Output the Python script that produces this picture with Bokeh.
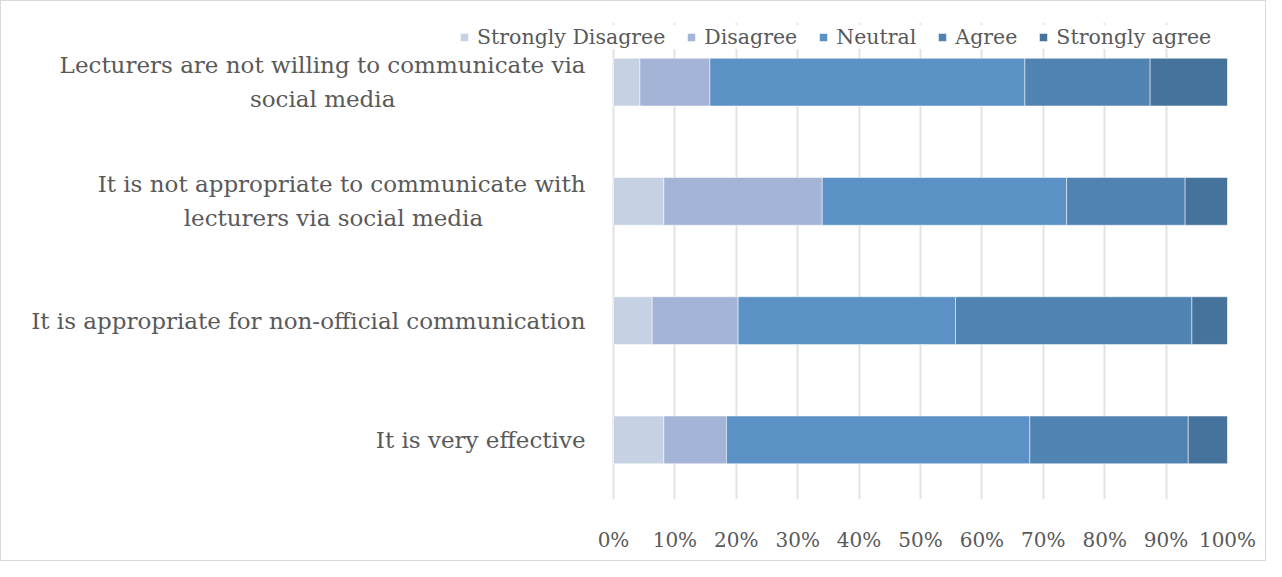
from bokeh.plotting import figure
from bokeh.models import FactorRange, FixedTicker, Legend, LegendItem, Range1d
from bokeh.embed import file_html
from bokeh.resources import INLINE

# two-line category labels (second line centred under the first, as in the reference)
NB = "\u00a0"
categories = [
    "Lecturers are not willing to communicate via\nsocial media" + NB * 26,
    "It is not appropriate to communicate with\nlecturers  via social media" + NB * 13,
    "It is appropriate for non-official communication",
    "It is very effective",
]
series = ["Strongly Disagree", "Disagree", "Neutral", "Agree", "Strongly agree"]
strongly_disagree = [4.3, 8.2, 6.3, 8.2]
disagree = [11.4, 25.8, 14.0, 10.2]
neutral = [51.3, 39.8, 35.4, 49.4]
agree = [20.4, 19.3, 38.5, 25.8]
strongly_agree = [12.6, 6.9, 5.8, 6.4]
x_ticks = [0, 10, 20, 30, 40, 50, 60, 70, 80, 90, 100]
tick_labels = ["0%", "10%", "20%", "30%", "40%", "50%", "60%", "70%", "80%", "90%", "100%"]

colors = ["#C6D2E3", "#A3B4D6", "#5C91C6", "#5082B2", "#46739C"]
FONT = "DejaVu Serif"
TXT = "#595959"

data = dict(cat=categories, **{
    "Strongly Disagree": strongly_disagree,
    "Disagree": disagree,
    "Neutral": neutral,
    "Agree": agree,
    "Strongly agree": strongly_agree,
})

# frame spans from the legend's left edge to the 100% line; 0% sits 154 px in
p = figure(
    width=1266, height=561,
    y_range=FactorRange(factors=list(reversed(categories))),
    x_range=Range1d(-25.08, 100),
    output_backend="svg", toolbar_location=None,
    min_border_left=458, min_border_right=40, min_border_top=21, min_border_bottom=63,
)
p.styles = {"border": "1px solid #D9D9D9"}

renderers = p.hbar_stack(series, y="cat", height=0.4, color=colors, source=data,
                         line_color="white", line_width=0.5)

legend = Legend(items=[LegendItem(label=s, renderers=[r]) for s, r in zip(series, renderers)],
                orientation="horizontal", location=(0, 450),
                label_text_font=FONT, label_text_font_size="20.5px", label_text_color=TXT,
                glyph_width=10, glyph_height=10, spacing=21, label_standoff=8,
                padding=0, margin=0, border_line_color=None,
                background_fill_color="white", background_fill_alpha=1.0)
p.add_layout(legend, "center")

p.xaxis.ticker = FixedTicker(ticks=x_ticks)
p.xaxis.major_label_overrides = {t: l for t, l in zip(x_ticks, tick_labels)}
for ax in (p.xaxis, p.yaxis):
    ax.axis_line_color = None
    ax.major_tick_line_color = None
    ax.minor_tick_line_color = None
    ax.major_label_text_font = FONT
    ax.major_label_text_color = TXT
p.xaxis.major_label_text_font_size = "20px"
p.xaxis.major_label_standoff = 22
p.yaxis.major_label_text_font_size = "23px"
p.yaxis.major_label_text_line_height = 1.3
p.yaxis.major_label_standoff = -132

p.xgrid.grid_line_color = "#E3E3E3"
p.xgrid.grid_line_width = 2
p.ygrid.grid_line_color = None
p.outline_line_color = None

open("out.html", "w").write(file_html(p, INLINE))
